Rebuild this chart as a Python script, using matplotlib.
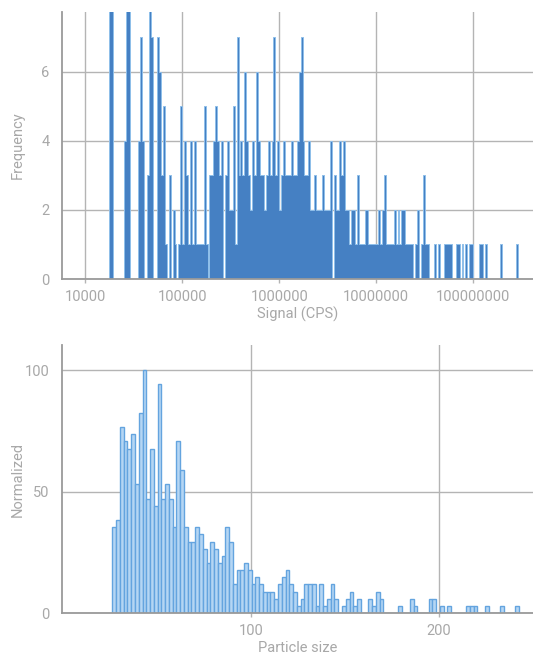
import numpy as np
import matplotlib
matplotlib.use("Agg")
import matplotlib.pyplot as plt

plt.rcParams['font.family'] = ['Roboto', 'DejaVu Sans']

# top: frequency per log10 bin (bins of 0.02 decade starting at 10**4.2 CPS)
log_start = 4.2
log_step = 0.02
freq = [
    0, 0, 8, 8, 0, 0, 0, 0, 0, 0,
    4, 8, 8, 0, 0, 0, 0, 4, 7, 4,
    0, 0, 3, 8, 7, 0, 0, 7, 6, 3,
    5, 1, 0, 3, 0, 2, 1, 0, 1, 5,
    1, 4, 3, 1, 4, 1, 4, 1, 1, 1,
    1, 5, 1, 0, 3, 3, 4, 5, 4, 3,
    4, 0, 3, 4, 2, 2, 5, 1, 7, 3,
    4, 3, 6, 4, 3, 2, 4, 3, 6, 4,
    3, 3, 2, 3, 4, 3, 4, 7, 3, 4,
    2, 3, 4, 3, 3, 3, 4, 3, 3, 4,
    6, 7, 4, 3, 3, 4, 2, 2, 3, 2,
    2, 2, 3, 2, 2, 2, 4, 0, 3, 2,
    2, 4, 3, 4, 2, 2, 1, 2, 2, 1,
    3, 1, 1, 1, 2, 2, 1, 1, 1, 1,
    1, 2, 1, 2, 3, 1, 1, 1, 1, 2,
    1, 2, 1, 2, 2, 1, 1, 1, 1, 0,
    1, 2, 0, 1, 3, 1, 1, 0, 0, 0,
    1, 0, 1, 0, 0, 1, 1, 1, 1, 0,
    0, 1, 1, 0, 1, 0, 1, 0, 1, 1,
    0, 0, 0, 1, 1, 0, 1, 0, 0, 0,
    0, 0, 0, 0, 1, 0, 0, 0, 0, 0,
    0, 0, 1, 0, 0,
]
signal_ticks = [10000, 100000, 1000000, 10000000, 100000000]

# bottom: counts per 2-unit size bin, first bin starts at 26.5
size_start = 26.5
size_step = 2
size_counts = [
    12, 13, 26, 24, 23, 25, 18, 28, 34, 16,
    23, 15, 32, 16, 18, 16, 12, 24, 20, 12,
    10, 10, 12, 11, 9, 7, 10, 9, 7, 8,
    12, 10, 4, 6, 6, 7, 6, 4, 5, 4,
    3, 3, 3, 2, 4, 5, 6, 4, 3, 1,
    2, 4, 4, 4, 1, 4, 1, 2, 4, 2,
    0, 1, 2, 3, 1, 2, 0, 0, 2, 1,
    3, 2, 0, 0, 0, 0, 1, 0, 0, 2,
    1, 0, 0, 0, 2, 2, 0, 1, 0, 1,
    0, 0, 0, 0, 1, 1, 1, 0, 0, 1,
    0, 0, 0, 1, 0, 0, 0, 1,
]

txt = '#a8a8a8'
grid = '#b4b4b4'

fig = plt.figure(figsize=(5.33, 6.55), dpi=100)

def style(ax):
    for s in ['top', 'right']:
        ax.spines[s].set_visible(False)
    ax.spines['left'].set_color('#9a9a9a')
    ax.spines['bottom'].set_color('#9a9a9a')
    ax.spines['left'].set_linewidth(1.3)
    ax.spines['bottom'].set_linewidth(1.3)
    ax.grid(True, color=grid, linewidth=1.0)
    ax.set_axisbelow(True)
    ax.tick_params(axis='x', colors=grid, labelcolor=txt, length=3, width=1, labelsize=10.5, pad=5)
    ax.tick_params(axis='y', length=0, labelcolor=txt, labelsize=10.5, pad=9)
    ax.yaxis.set_label_coords(-0.08, 0.5)

# ---- top histogram
ax1 = fig.add_axes([0.1163, 0.574, 0.8837, 0.4076])
edges = 10 ** (log_start + log_step * np.arange(len(freq) + 1))
ax1.hist(edges[:-1], bins=edges, weights=freq, histtype='stepfilled',
         facecolor='#4580c3', edgecolor='#8fbfea', linewidth=0.7)
ax1.set_xscale('log')
ax1.set_xlim(10 ** 3.759, 10 ** 8.617)
ax1.set_ylim(0, 7.72)
ax1.set_xticks(signal_ticks)
ax1.set_xticklabels([str(v) for v in signal_ticks])
ax1.xaxis.set_minor_locator(matplotlib.ticker.NullLocator())
ax1.set_yticks([0, 2, 4, 6])
ax1.set_xlabel('Signal (CPS)', color=txt, fontsize=10.5, labelpad=2)
ax1.set_ylabel('Frequency', color=txt, fontsize=10.5)
style(ax1)

# ---- bottom histogram
ax2 = fig.add_axes([0.1163, 0.0641, 0.8837, 0.4092])
counts = np.array(size_counts, dtype=float)
norm = counts / counts.max() * 100
sedges = size_start + size_step * np.arange(len(size_counts) + 1)
ax2.hist(sedges[:-1], bins=sedges, weights=norm, facecolor='#b5d6f4',
         edgecolor='#64a4df', linewidth=1.0)
ax2.set_xlim(-0.3, 250)
ax2.set_ylim(0, 110.3)
ax2.set_xticks([100, 200])
ax2.set_yticks([0, 50, 100])
ax2.set_xlabel('Particle size', color=txt, fontsize=10.5, labelpad=2)
ax2.set_ylabel('Normalized', color=txt, fontsize=10.5)
style(ax2)

fig.savefig('out.png', dpi=100)
